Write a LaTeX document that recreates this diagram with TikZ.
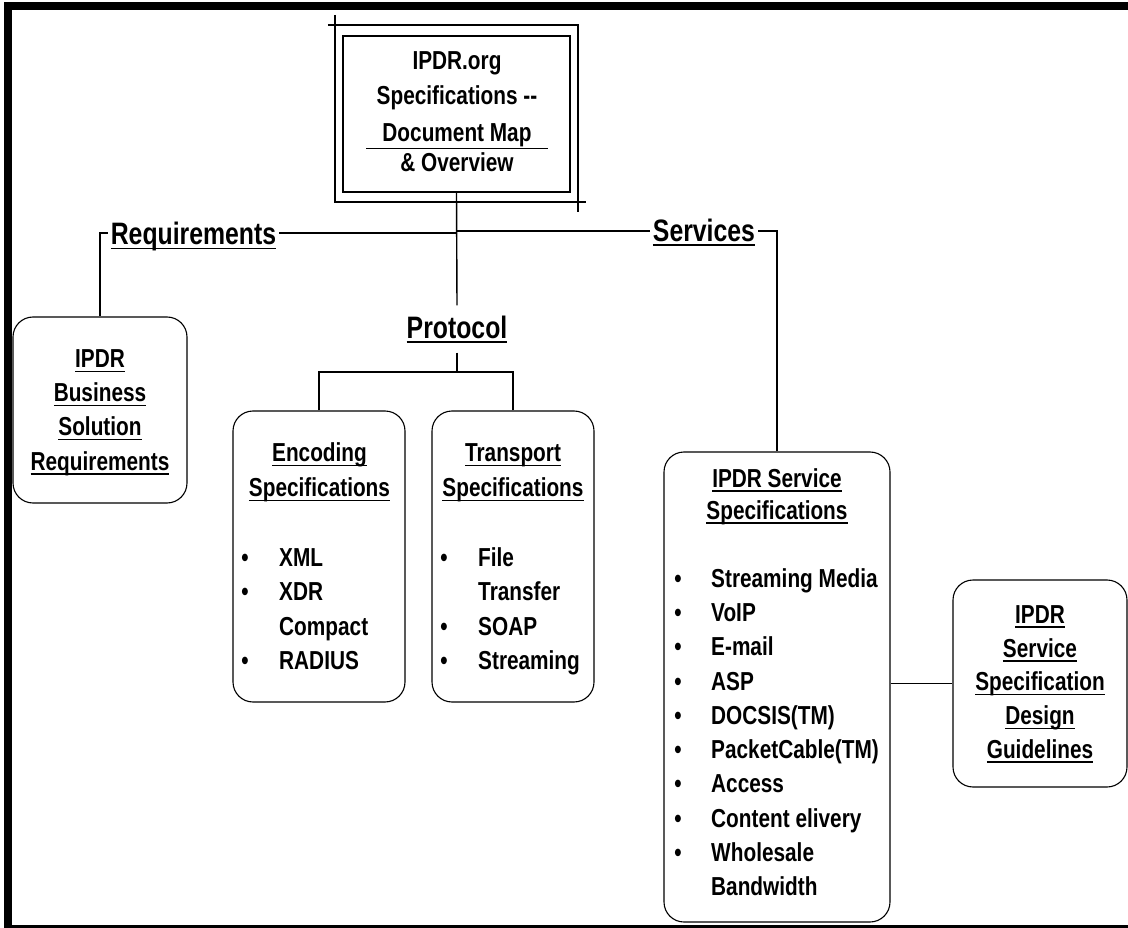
\documentclass[tikz,border=0pt]{standalone}
\usepackage{fontspec}
\newfontfamily\nar{Liberation Sans}[FakeStretch=0.8]
\newsavebox\myulbox
\newcommand\myul[1]{\sbox\myulbox{#1}\rlap{\vrule height -3pt depth 4.5pt width \wd\myulbox}\usebox\myulbox}
\tikzset{
  rbox/.style={draw, line width=1.1pt, rounded corners=20pt, inner sep=0pt},
  conn/.style={line width=1.4pt},
  mline/.style={line width=1.8pt},
  body/.style={font=\nar\bfseries\fontsize{26}{34}\selectfont, inner sep=0pt, anchor=base},
  lbl/.style={font=\nar\bfseries\fontsize{31}{37}\selectfont, fill=white, inner sep=3pt, anchor=base},
}
\begin{document}
\begin{tikzpicture}[x=1pt,y=-1pt]
\useasboundingbox (0,0) rectangle (1128,928);
% frame
\fill (4,2) rectangle (1128,10);
\fill (4,2) rectangle (12,928);
\fill (4,925) rectangle (1128,928);

% main box
\node[minimum width=243pt, minimum height=177pt, inner sep=0pt] (outer) at (456.5,113.5) {};
\node[draw, mline, minimum width=227pt, minimum height=156pt, inner sep=0pt] (top) at (456.5,114) {};
\draw[mline] ([xshift=-7pt]outer.north west) -- (outer.north east) -- ([yshift=-10pt]outer.south east);
\draw[mline] ([yshift=10pt]outer.north west) -- (outer.south west) -- ([xshift=8pt]outer.south east);
\node[body] (t1) at (457,70) {IPDR.org};
\node[body] (t2) at (457,105) {Specifications --};
\node[body] (t3) at (457,141.7) {Document Map};
\node[body] (t4) at (457,171.7) {\& Overview};
\coordinate (rl) at (366,148.5);
\coordinate (rr) at (548,148.5);
\draw[line width=1.2pt] (rl) -- (rr);

% boxes
\node[rbox, minimum width=174pt, minimum height=186pt] (bus) at (100,410) {};
\node[rbox, minimum width=172pt, minimum height=291pt] (enc) at (319,556.5) {};
\node[rbox, minimum width=162pt, minimum height=291pt] (tra) at (513,556.5) {};
\node[rbox, minimum width=226pt, minimum height=470pt] (svc) at (777,687) {};
\node[rbox, minimum width=174pt, minimum height=207pt] (gdl) at (1040,683.5) {};

% protocol label
\node[lbl, inner ysep=10pt] (proto) at (457,338) {\myul{Protocol}};

% connectors
\coordinate (jl) at (457,233);
\coordinate (jr) at (457,231);
\coordinate (pj) at (457,372);
\draw[conn] (top.south) -- (proto.north);
\draw[conn] (bus.north) |- (jl);
\draw[conn] (svc.north) |- (jr);
\draw[conn] (proto.south) -- (pj);
\draw[conn] (enc.north) |- (pj);
\draw[conn] (tra.north) |- (pj);
\draw[conn] (svc.east |- gdl.west) -- (gdl.west);

% labels over lines
\node[lbl] (req) at (193.5,245) {\myul{Requirements}};
\node[lbl] (ser) at (704,241.5) {\myul{Services}};

% business box
\foreach \t [count=\i from 0] in {IPDR, Business, Solution, Requirements}
  \node[body] (bus\i) at (100,367.7+34.1*\i) {\myul{\t}};

% encoding box
\node[body] (enc-h1) at (319.5,461.7) {\myul{Encoding}};
\node[body] (enc-h2) at (319.5,496.7) {\myul{Specifications}};
\foreach \b/\t [count=\i from 0] in {1/XML, 1/XDR, 0/Compact, 1/RADIUS}{
  \ifnum\b=1 \node[body] (encb\i) at (245,566.7+34.2*\i) {\textbullet}; \fi
  \node[body, anchor=base west] (enci\i) at (279,566.7+34.2*\i) {\t};
}

% transport box
\node[body] (tra-h1) at (513,461.7) {\myul{Transport}};
\node[body] (tra-h2) at (513,496.7) {\myul{Specifications}};
\foreach \b/\t [count=\i from 0] in {1/File, 0/Transfer, 1/SOAP, 1/Streaming}{
  \ifnum\b=1 \node[body] (trab\i) at (444,566.7+34.2*\i) {\textbullet}; \fi
  \node[body, anchor=base west] (trai\i) at (478,566.7+34.2*\i) {\t};
}

% service box
\node[body] (svc-h1) at (777,487.3) {\myul{IPDR Service}};
\node[body] (svc-h2) at (777,519.3) {\myul{Specifications}};
\foreach \b/\t [count=\i from 0] in {1/Streaming Media, 1/VoIP, 1/E-mail, 1/ASP, 1/DOCSIS(TM), 1/PacketCable(TM), 1/Access, 1/Content elivery, 1/Wholesale, 0/Bandwidth}{
  \ifnum\b=1 \node[body] (svcb\i) at (678,587.3+34.27*\i) {\textbullet}; \fi
  \node[body, anchor=base west] (svci\i) at (711,587.3+34.27*\i) {\t};
}

% guidelines box
\foreach \t [count=\i from 0] in {IPDR, Service, Specification, Design, Guidelines}
  \node[body] (gdl\i) at (1040,623.3+33.75*\i) {\myul{\t}};
\end{tikzpicture}
\end{document}
